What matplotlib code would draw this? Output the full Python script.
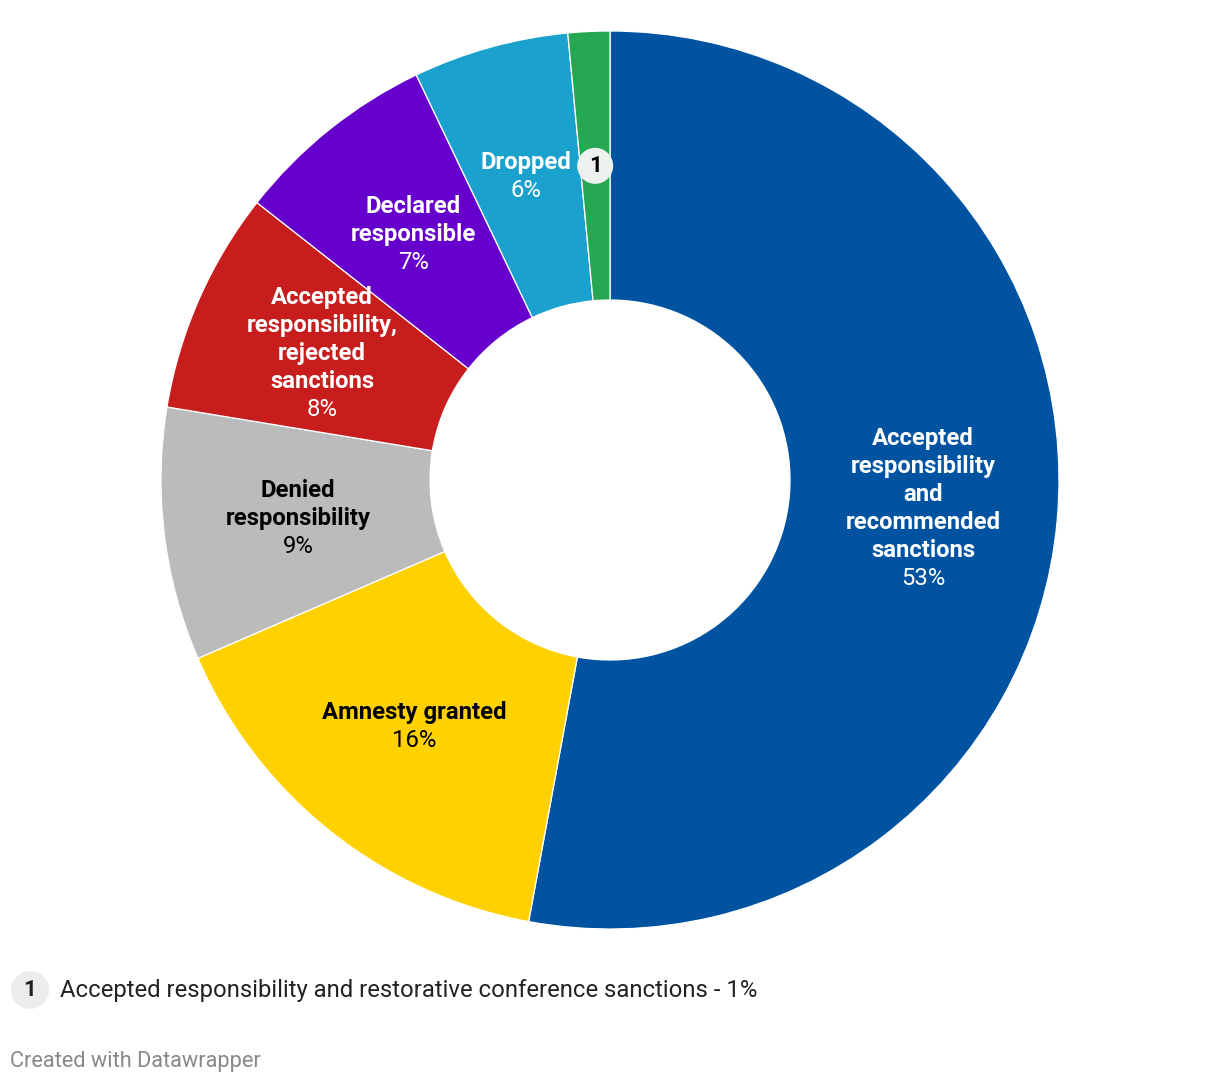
import matplotlib.pyplot as plt
import numpy as np

plt.rcParams["font.family"] = ["Roboto", "DejaVu Sans"]

# slice shares (%), clockwise from 12 o'clock
categories = [
    ["Accepted", "responsibility", "and", "recommended", "sanctions"],
    ["Amnesty granted"],
    ["Denied", "responsibility"],
    ["Accepted", "responsibility,", "rejected", "sanctions"],
    ["Declared", "responsible"],
    ["Dropped"],
    None,  # shown as footnote badge
]
values = [52.9, 15.6, 9.1, 8.0, 7.3, 5.6, 1.5]
pct_labels = ["53%", "16%", "9%", "8%", "7%", "6%", "1%"]
colors = ["#0053a1", "#ffd100", "#bbbbbb", "#c71e1d", "#6600cc", "#1ba1ce", "#26a852"]
text_colors = ["white", "black", "black", "white", "white", "white", "black"]
footnote = "Accepted responsibility and restorative conference sanctions - 1%"

W, H = 1220, 1086
fig = plt.figure(figsize=(W / 100, H / 100), dpi=100)
ax = fig.add_axes([0, 0, 1, 1])

cx, cy = 610, H - 480
r_out, r_in = 449, 180

wedges, _ = ax.pie(
    values,
    radius=r_out,
    center=(cx, cy),
    startangle=90,
    counterclock=False,
    colors=colors,
    wedgeprops=dict(width=r_out - r_in, edgecolor="white", linewidth=0.9),
)
ax.set_xlim(0, W)
ax.set_ylim(0, H)
ax.set_aspect("equal")
ax.axis("off")

line_h = 28
r_mid = (r_out + r_in) / 2
for w, name, pct, tc in zip(wedges, categories, pct_labels, text_colors):
    ang = np.deg2rad((w.theta1 + w.theta2) / 2)
    x = cx + r_mid * np.cos(ang)
    y = cy + r_mid * np.sin(ang)
    if name is None:
        # small slice: numbered badge instead of label
        ax.add_patch(plt.Circle((x, y), 18, facecolor="#eef2ee", edgecolor="none", zorder=3))
        ax.text(x, y, "1", ha="center", va="center", fontsize=16, fontweight="bold",
                color="black", zorder=4)
        continue
    lines = name + [pct]
    n = len(lines)
    for i, line in enumerate(lines):
        ly = y + (n - 1) / 2 * line_h - i * line_h
        bold = i < n - 1
        ax.text(x, ly, line, ha="center", va="center", fontsize=17.2,
                fontweight="bold" if bold else "normal", color=tc)

# footnote
ax.add_patch(plt.Circle((30, H - 990), 19, facecolor="#ececec", edgecolor="none"))
ax.text(30, H - 990, "1", ha="center", va="center", fontsize=16, fontweight="bold", color="#222222")
ax.text(60, H - 990, footnote, ha="left", va="center", fontsize=17.2, color="#222222")

ax.text(10, H - 1062, "Created with Datawrapper", ha="left", va="center", fontsize=15.7, color="#888888")

fig.savefig("out.png", dpi=100)
